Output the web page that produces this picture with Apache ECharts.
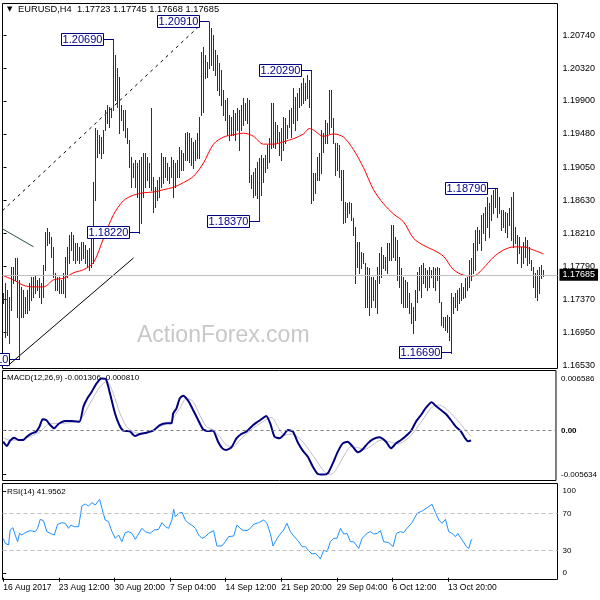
<!DOCTYPE html>
<html><head><meta charset="utf-8">
<script src="https://cdn.jsdelivr.net/npm/echarts@6/dist/echarts.min.js"></script>
<style>html,body{margin:0;padding:0;background:#fff}#c{width:600px;height:600px}</style>
</head><body><div id="c"></div>
<script>
const titleText = 'EURUSD,H4  1.17723 1.17745 1.17668 1.17685';
const lastClose = 1.17685;
const barHigh = [1.1745,1.1758,1.1749,1.1740,1.1778,1.1778,1.1790,1.1790,1.1762,1.1753,
1.1749,1.1740,1.1749,1.1758,1.1766,1.1766,1.1768,1.1762,1.1764,1.1758,
1.1781,1.1823,1.1828,1.1823,1.1817,1.1804,1.1771,1.1766,1.1766,1.1762,
1.1771,1.1791,1.1804,1.1819,1.1823,1.1819,1.1809,1.1809,1.1804,1.1810,
1.1810,1.1806,1.1800,1.1803,1.1826,1.1887,1.1956,1.1953,1.1947,1.1944,
1.1953,1.1979,1.1985,1.1982,1.1981,1.2069,1.2049,1.2032,1.2021,1.1985,
1.1979,1.1979,1.1956,1.1940,1.1919,1.1911,1.1915,1.1911,1.1915,1.1919,
1.1924,1.1924,1.1919,1.1911,1.1981,1.1893,1.1880,1.1889,1.1893,1.1924,
1.1919,1.1919,1.1911,1.1906,1.1919,1.1915,1.1911,1.1915,1.1931,1.1928,
1.1924,1.1949,1.1951,1.1949,1.1943,1.1938,1.1940,1.1949,1.1970,1.2053,
1.2059,1.2049,1.2040,1.2091,1.2083,1.2074,1.2055,1.2049,1.2039,1.2030,
1.2004,1.1991,1.1994,1.1972,1.1970,1.1979,1.1975,1.1981,1.1979,1.1985,
1.1994,1.1988,1.1994,1.1991,1.1896,1.1900,1.1905,1.1912,1.1917,1.1921,
1.1917,1.1921,1.1934,1.1943,1.1988,1.1988,1.1963,1.1959,1.1951,1.1956,
1.1970,1.1968,1.1959,1.1979,1.1981,1.2007,1.1995,1.2000,1.2007,1.2013,
1.2019,1.2013,1.2023,1.2017,1.2029,1.1898,1.1898,1.1919,1.1924,1.1953,
1.1949,1.1966,1.1962,1.2004,1.2004,1.1968,1.1937,1.1937,1.1934,1.1902,
1.1902,1.1861,1.1860,1.1861,1.1860,1.1841,1.1829,1.1810,1.1810,1.1798,
1.1796,1.1784,1.1778,1.1777,1.1766,1.1766,1.1762,1.1778,1.1796,1.1804,
1.1794,1.1791,1.1809,1.1809,1.1832,1.1832,1.1817,1.1813,1.1791,1.1777,
1.1766,1.1762,1.1759,1.1745,1.1733,1.1727,1.1749,1.1772,1.1778,1.1781,
1.1784,1.1777,1.1775,1.1778,1.1775,1.1778,1.1777,1.1778,1.1777,1.1734,
1.1715,1.1715,1.1717,1.1715,1.1745,1.1740,1.1745,1.1749,1.1752,1.1758,
1.1753,1.1764,1.1766,1.1787,1.1790,1.1809,1.1826,1.1829,1.1826,1.1845,
1.1847,1.1855,1.1868,1.1860,1.1870,1.1877,1.1878,1.1879,1.1868,1.1851,
1.1851,1.1849,1.1847,1.1854,1.1868,1.1874,1.1829,1.1819,1.1817,1.1804,
1.1810,1.1817,1.1813,1.1804,1.1787,1.1778,1.1771,1.1775,1.1778,1.1781,
1.17745];
const barLow = [1.1733,1.1689,1.1692,1.1682,1.1724,1.1758,1.1762,1.1715,1.1661,1.1715,
1.1715,1.1720,1.1720,1.1724,1.1736,1.1740,1.1745,1.1749,1.1740,1.1733,
1.1740,1.1775,1.1806,1.1809,1.1791,1.1766,1.1749,1.1749,1.1745,1.1745,
1.1745,1.1740,1.1766,1.1784,1.1800,1.1787,1.1784,1.1787,1.1784,1.1787,
1.1790,1.1784,1.1778,1.1775,1.1778,1.1784,1.1864,1.1919,1.1924,1.1917,
1.1924,1.1953,1.1962,1.1957,1.1970,1.1979,1.1991,1.1982,1.1949,1.1966,
1.1953,1.1944,1.1937,1.1906,1.1880,1.1893,1.1880,1.1868,1.1822,1.1835,
1.1868,1.1880,1.1889,1.1880,1.1877,1.1849,1.1855,1.1864,1.1868,1.1880,
1.1886,1.1893,1.1889,1.1886,1.1893,1.1868,1.1880,1.1893,1.1893,1.1902,
1.1902,1.1915,1.1915,1.1912,1.1908,1.1905,1.1915,1.1917,1.1917,1.1972,
1.1976,1.2019,1.2021,1.2032,1.2036,1.2030,1.2023,1.2004,1.1998,1.1985,
1.1972,1.1966,1.1947,1.1940,1.1947,1.1947,1.1940,1.1953,1.1928,1.1953,
1.1959,1.1966,1.1962,1.1887,1.1879,1.1868,1.1870,1.1866,1.1837,1.1870,
1.1887,1.1900,1.1905,1.1912,1.1930,1.1931,1.1930,1.1938,1.1921,1.1915,
1.1928,1.1937,1.1943,1.1957,1.1944,1.1962,1.1953,1.1966,1.1982,1.1985,
1.1988,1.1991,1.1994,1.1982,1.1860,1.1864,1.1873,1.1889,1.1889,1.1898,
1.1925,1.1937,1.1937,1.1949,1.1957,1.1937,1.1896,1.1902,1.1893,1.1864,
1.1835,1.1836,1.1842,1.1847,1.1838,1.1819,1.1758,1.1778,1.1771,1.1777,
1.1784,1.1727,1.1727,1.1717,1.1727,1.1736,1.1727,1.1720,1.1758,1.1766,
1.1777,1.1775,1.1771,1.1787,1.1787,1.1791,1.1787,1.1762,1.1753,1.1733,
1.1727,1.1727,1.1727,1.1720,1.1707,1.1694,1.1711,1.1734,1.1749,1.1740,
1.1758,1.1753,1.1749,1.1753,1.1766,1.1753,1.1749,1.1762,1.1734,1.1704,
1.1702,1.1698,1.1696,1.1685,1.1669,1.1720,1.1727,1.1724,1.1733,1.1736,
1.1739,1.1740,1.1749,1.1753,1.1762,1.1771,1.1775,1.1800,1.1809,1.1800,
1.1822,1.1813,1.1829,1.1817,1.1838,1.1847,1.1855,1.1842,1.1847,1.1826,
1.1829,1.1823,1.1817,1.1832,1.1813,1.1804,1.1809,1.1784,1.1796,1.1778,
1.1784,1.1791,1.1781,1.1784,1.1775,1.1753,1.1740,1.1736,1.1745,1.1764,
1.17668];
const maPts = [[0,1.1767],[5,1.1762],[10,1.1755],[15,1.1753],[20,1.1753],[25,1.1762],[30,1.1764],[35,1.1771],[40,1.1775],[45,1.1784],
[50,1.1815],[55,1.1845],[60,1.1863],[65,1.1870],[70,1.1873],[75,1.1874],[80,1.1877],[85,1.1880],[90,1.1886],[95,1.1894],
[100,1.1911],[105,1.1935],[110,1.1944],[115,1.1947],[120,1.1949],[125,1.1945],[130,1.1935],[135,1.1935],[140,1.1938],[145,1.1942],
[150,1.1948],[153,1.1955],[155,1.1953],[160,1.1945],[165,1.1948],[170,1.1944],[175,1.1928],[180,1.1905],[185,1.1877],[190,1.1859],
[195,1.1846],[200,1.1836],[205,1.1815],[210,1.1806],[215,1.1800],[220,1.1792],[225,1.1775],[230,1.1768],[235,1.1767],[240,1.1777],
[245,1.1791],[250,1.1800],[255,1.1804],[260,1.1804],[265,1.1800],[270,1.1795]];
const levelLabels = [[8,1.1661,'1.16610'],[55,1.2069,'1.20690'],[68,1.1822,'1.18220'],[103,1.2091,'1.20910'],
[128,1.1837,'1.18370'],[154,1.2029,'1.20290'],[224,1.1669,'1.16690'],[247,1.1879,'1.18790']];
const dashedTrend = [[-0.5,1.18502],[98.5,1.20871]];
const solidTrend = [[2,1.16522],[65,1.17899]];
const grayTrend = [[-0.5,1.18270],[15,1.18042]];
const priceTicks = [1.16530,1.16950,1.17370,1.17790,1.18210,1.18630,1.19050,1.19480,1.19900,1.20320,1.20740];

const macdPts = [[0,-0.001446],[2.1,-0.001997],[4,-0.001319],[6.3,-0.000937],[8.8,-0.001234],[11.7,-0.001234],[13.6,-0.000810],[16.5,-0.000386],[19,-0.000174],[20.9,0.000462],
[22.8,0.001395],[24.8,0.001310],[27.1,0.000674],[29.4,0.000250],[31.9,0.000801],[35.7,0.001183],[39.5,0.001183],[44,0.001098],[46.3,0.003006],[48.6,0.004066],
[51.1,0.004914],[53.9,0.005974],[56.8,0.006586],[59.3,0.006483],[61.6,0.004702],[64.5,0.002158],[67,0.000674],[69.3,-0.000047],[73.1,-0.000131],[76,-0.000725],
[78.9,-0.000471],[82.7,-0.000301],[86.6,-0.000047],[90.4,0.000674],[94.2,0.000886],[97.1,0.000886],[98.1,0.002158],[100,0.002794],[101.9,0.004066],[103.8,0.004405],
[106.7,0.003769],[109.6,0.002582],[112.5,0.001310],[115.4,0.000123],[118.2,-0.000089],[121.1,-0.000047],[124,-0.001446],[126.5,-0.002294],[128.8,-0.002506],[131.7,-0.002167],
[134.5,-0.001064],[137.4,-0.000471],[140.3,-0.000174],[143.2,0.000462],[146.1,0.000971],[148.9,0.001395],[151.8,0.001819],[154.1,0.000886],[156.6,-0.000810],[159.5,-0.001022],
[161.8,-0.000598],[164.3,0.000038],[167.2,-0.000174],[170.1,-0.001573],[172.9,-0.002591],[175.8,-0.003354],[178.7,-0.004626],[181.6,-0.005559],[184.5,-0.005634],[187.3,-0.005474],
[190.2,-0.004202],[193.1,-0.002718],[196,-0.001658],[198.8,-0.001446],[201.7,-0.002082],[204.6,-0.002803],[207.5,-0.002421],[210.4,-0.001658],[213.2,-0.001149],[217.1,-0.000895],
[220.9,-0.001446],[223.8,-0.002294],[226.7,-0.001658],[229.6,-0.001234],[232.4,-0.000725],[235.3,-0.000089],[238.2,0.001098],[241.1,0.001946],[244,0.002879],[247.2,0.003557],
[249.7,0.003091],[252.6,0.002582],[255.5,0.002073],[258.3,0.001310],[261.2,0.000462],[264.1,-0.000131],[266.5,-0.001000],[268.3,-0.001400],[270,-0.001306]];
const signalPts = [[0,-0.00095],[4,-0.00125],[9.8,-0.00118],[15.5,-0.000810],[21.3,-0.000174],[27.1,0.000886],[32.8,0.000886],[38.6,0.000971],[44.3,0.001310],[50.1,0.003430],
[55.9,0.005550],[59.7,0.006186],[63.5,0.004702],[67.4,0.002158],[71.2,0.000462],[75,-0.000174],[78.9,-0.000386],[84.6,-0.000174],[90.4,0.000462],[96.2,0.001098],
[101.9,0.002794],[105.8,0.004066],[109.6,0.003642],[113.4,0.001946],[117.3,0.000462],[121.1,0.000038],[125,-0.000810],[128.8,-0.001870],[132.6,-0.002082],[136.5,-0.001234],
[140.3,-0.000471],[144.1,0.000250],[149.9,0.001098],[154.7,0.001649],[158.5,0.000462],[162.4,-0.000598],[166.2,-0.000471],[171,-0.001022],[175.8,-0.002294],[180.6,-0.003778],
[185.4,-0.005262],[189.3,-0.005600],[193.1,-0.004626],[196.9,-0.003142],[200.8,-0.002082],[204.6,-0.002209],[208.4,-0.002421],[213.2,-0.001870],[218,-0.001234],[222.8,-0.001446],
[227.6,-0.001743],[232.4,-0.001234],[237.2,-0.000174],[242,0.001310],[247.8,0.003006],[251.6,0.003218],[256.4,0.002582],[261.2,0.001522],[266,0.000250],[270,-0.000810]];
const macdTicks = [-0.005634, 0, 0.006586];

const rsiPts = [[0,43.1],[1.2,37.6],[2.1,35.8],[3.1,35.8],[4,52.2],[5.6,54.7],[6.9,46.7],[8.3,39.4],[9.4,48.5],[10.7,46.7],
[12.7,49.3],[15.5,51.5],[18.4,50.4],[19.8,54.0],[21.3,63.8],[23.2,62.4],[25.1,50.4],[27.1,48.5],[29.4,46.7],[31.3,58.4],
[33.8,60.2],[35.7,59.5],[37.6,54.0],[39,57.6],[40.9,55.8],[43.4,55.8],[45.3,78.4],[47.2,80.6],[49.1,78.4],[51.1,82.1],
[53,79.5],[55.5,85.7],[56.8,75.9],[58.7,63.1],[60.6,61.3],[62.6,50.4],[64.5,43.1],[66.4,46.7],[68.3,39.4],[70.2,49.3],
[72.2,50.4],[74.1,48.5],[76,42.0],[77.9,47.8],[79.8,54.0],[81.8,50.4],[84.6,48.5],[86.9,52.2],[89.4,52.9],[91.4,60.2],
[93.3,55.8],[95.2,54.0],[97.1,63.1],[98.1,74.8],[99,66.8],[101,70.4],[102.9,71.5],[104.8,63.1],[106.7,59.5],[108.6,57.6],
[110.6,54.0],[112.5,46.7],[114.4,43.1],[116.3,44.9],[118.2,48.5],[121.1,51.5],[123,34.7],[125.9,34.7],[127.8,39.4],[129.7,44.9],
[132.6,45.6],[134.5,57.6],[137.4,52.2],[140.3,51.5],[142.2,54.0],[144.1,58.4],[147,60.2],[149.9,63.1],[151.8,59.5],[153.7,48.5],
[155.3,34.7],[156.6,39.4],[158.5,45.6],[161.4,52.2],[163.3,59.5],[165.3,50.4],[167.2,45.6],[170.1,39.4],[172,34.0],[173.9,34.0],
[175.8,29.6],[177.7,26.0],[179.7,26.7],[181.6,23.0],[182.5,20.5],[184.5,30.3],[186.4,28.5],[188.3,39.4],[190.2,43.1],[192.1,43.1],
[194.1,54.0],[196,47.8],[197.9,48.5],[199.8,39.4],[201.7,39.4],[204.6,32.1],[206.5,43.1],[209.4,48.5],[211.3,50.4],[213.2,47.8],
[215.2,48.5],[217.1,51.5],[219,39.4],[221.9,38.3],[224.4,34.0],[226.3,48.5],[228.6,50.4],[230.5,49.3],[232.4,54.0],[235.3,60.2],
[238.2,70.4],[241.1,73.0],[244,76.6],[246.8,80.2],[248.8,71.1],[250.7,63.1],[252.6,59.5],[254.5,63.8],[256.4,50.4],[258.3,48.5],
[260.3,44.9],[261.6,48.5],[264.1,41.3],[266.6,34.0],[268,32.1],[269.3,41.3],[270,41.96]];
const rsiLevels = [30, 70];
const rsiTickLabels = [['0',5.2],['30',30],['70',70],['100',94.8]];
const timeLabelBars = [0,32,64,96,128,160,192,224,256];
const timeLabels = ['16 Aug 2017','23 Aug 12:00','30 Aug 20:00','7 Sep 04:00','14 Sep 12:00','21 Sep 20:00','29 Sep 04:00','6 Oct 12:00','13 Oct 20:00'];

const FONT = "'Liberation Sans', Arial, sans-serif";
const barColor = '#163754';
const chart = echarts.init(document.getElementById('c'), null, {renderer:'canvas'});

const option = {
  animation: false,
  backgroundColor: '#fff',
  textStyle: {fontFamily: FONT},
  grid: [
    {left:2.5, top:3.5, width:555, height:365, show:true, borderColor:'#000', borderWidth:1, backgroundColor:'transparent'},
    {left:2.5, top:370.5, width:555, height:110, show:true, borderColor:'#000', borderWidth:1, backgroundColor:'transparent'},
    {left:2.5, top:483.5, width:555, height:96, show:true, borderColor:'#000', borderWidth:1, backgroundColor:'transparent'}
  ],
  xAxis: [
    {gridIndex:0, type:'value', min:-0.5, max:277, show:false},
    {gridIndex:1, type:'value', min:-0.403, max:319, show:false},
    {gridIndex:2, type:'value', min:-0.403, max:319,
      axisLine:{show:false}, splitLine:{show:false},
      axisTick:{show:true, customValues: timeLabelBars, length:4, lineStyle:{color:'#000'}},
      axisLabel:{show:true, customValues: timeLabelBars, formatter: v => timeLabels[timeLabelBars.indexOf(v)] || '',
        align:'left', fontSize:8.5, color:'#000', margin:4, fontFamily:FONT}}
  ],
  yAxis: [
    {gridIndex:0, type:'value', position:'right', min:1.16490, max:1.21143, splitLine:{show:false}, axisLine:{show:false},
      axisTick:{show:true, customValues: priceTicks, length:3, lineStyle:{color:'#000'}},
      axisLabel:{customValues: priceTicks, formatter: v => v.toFixed(5), fontSize:9, color:'#000', margin:5, fontFamily:FONT}},
    {gridIndex:1, type:'value', position:'right', min:-0.006385, max:0.007607, splitLine:{show:false}, axisLine:{show:false},
      axisTick:{show:true, customValues: macdTicks, length:3, lineStyle:{color:'#000'}},
      axisLabel:{customValues: macdTicks, formatter: v => (Math.abs(v) < 1e-9 ? '{b|0.00}' : v.toFixed(6)), fontSize:8, color:'#000', margin:5, fontFamily:FONT,
        rich:{b:{fontWeight:'bold', fontSize:8, fontFamily:FONT, color:'#000'}}}},
    {gridIndex:2, type:'value', position:'right', min:-1.9, max:103.0, splitLine:{show:false}, axisLine:{show:false},
      axisTick:{show:true, customValues: rsiTickLabels.map(d=>d[1]), length:3, lineStyle:{color:'#000'}},
      axisLabel:{customValues: rsiTickLabels.map(d=>d[1]), formatter: v => { const f = rsiTickLabels.find(d => Math.abs(d[1]-v) < 1e-6); return f ? f[0] : ''; },
        fontSize:8, color:'#000', margin:5, fontFamily:FONT}}
  ],
  series: [
    {type:'line', xAxisIndex:0, yAxisIndex:0, data:[[0,lastClose]], showSymbol:false, symbol:'none', lineStyle:{width:0}, z:1, silent:true,
      markLine:{silent:true, symbol:'none', animation:false, precision:5,
        lineStyle:{color:'#c0c0c0', type:'solid', width:1},
        label:{show:true, position:'end', formatter: () => lastClose.toFixed(5), backgroundColor:'#000', color:'#fff',
          padding:[2,3,1,3], fontSize:9, distance:2, fontFamily:FONT},
        data:[{yAxis:lastClose}]}},
    {type:'line', xAxisIndex:0, yAxisIndex:0, data:dashedTrend, showSymbol:false, symbol:'none', clip:true, z:2, silent:true,
      lineStyle:{color:'#000', width:1, type:[3,4]}},
    {type:'line', xAxisIndex:0, yAxisIndex:0, data:solidTrend, showSymbol:false, symbol:'none', clip:true, z:2, silent:true,
      lineStyle:{color:'#000', width:1}},
    {type:'line', xAxisIndex:0, yAxisIndex:0, data:grayTrend, showSymbol:false, symbol:'none', clip:true, z:2, silent:true,
      lineStyle:{color:'#2f4f4f', width:1}},
    {type:'custom', xAxisIndex:0, yAxisIndex:0, clip:true, z:3, silent:true,
      data: barHigh.map((h,i) => [i, h, barLow[i]]),
      encode:{x:0, y:[1,2]},
      renderItem: (params, api) => {
        const i = api.value(0);
        const hi = api.coord([i, api.value(1)]);
        const lo = api.coord([i, api.value(2)]);
        const x = Math.floor(hi[0]) + 0.5;
        return {type:'line', shape:{x1:x, y1:Math.round(hi[1]), x2:x, y2:Math.round(lo[1])+1},
          style:{stroke:barColor, lineWidth:1}};
      }},
    {type:'line', xAxisIndex:0, yAxisIndex:0, data:maPts, showSymbol:false, symbol:'none', smooth:0.3, z:4, silent:true,
      lineStyle:{color:'#ff0000', width:1}},
    {type:'custom', xAxisIndex:0, yAxisIndex:0, clip:false, z:5, silent:true,
      data: levelLabels.map(d => [d[0], d[1]]),
      encode:{x:0, y:1},
      renderItem: (params, api) => {
        const p = api.coord([api.value(0), api.value(1)]);
        const x = Math.floor(p[0]) + 0.5, y = Math.floor(p[1]) + 0.5;
        const txt = levelLabels[params.dataIndex][2];
        return {type:'group', children:[
          {type:'line', shape:{x1:x-10, y1:y, x2:x, y2:y}, style:{stroke:'#000080', lineWidth:1}},
          {type:'rect', shape:{x:x-52, y:y-6, width:42, height:12}, style:{fill:'#fff', stroke:'#000080', lineWidth:1}},
          {type:'text', x:x-31, y:y+0.5, style:{text:txt, align:'center', verticalAlign:'middle', fill:'#00008b', font:'11px ' + FONT}}
        ]};
      }},
    {type:'line', xAxisIndex:1, yAxisIndex:1, data:signalPts, showSymbol:false, symbol:'none', smooth:0.3, z:2, silent:true,
      lineStyle:{color:'#c0c0c0', width:1},
      markLine:{silent:true, symbol:'none', animation:false, precision:6, label:{show:false},
        lineStyle:{color:'#808080', type:[3,3], width:1}, data:[{yAxis:0}]}},
    {type:'line', xAxisIndex:1, yAxisIndex:1, data:macdPts, showSymbol:false, symbol:'none', smooth:0.2, z:3, silent:true,
      lineStyle:{color:'#000080', width:2}},
    {type:'line', xAxisIndex:2, yAxisIndex:2, data:rsiPts, showSymbol:false, symbol:'none', z:3, silent:true,
      lineStyle:{color:'#1e90ff', width:1},
      markLine:{silent:true, symbol:'none', animation:false, precision:2, label:{show:false},
        lineStyle:{color:'#c0c0c0', type:[4,3], width:1}, data: rsiLevels.map(v => ({yAxis:v}))}}
  ],
  graphic: [
    {type:'text', left:137, top:324, z:-1, silent:true, style:{text:'ActionForex.com', fill:'#c8c8c8', font:'23px ' + FONT}},
    {type:'text', left:7, top:6, silent:true, style:{text:'\u25BC', fill:'#000', font:'7px DejaVu Sans'}},
    {type:'text', left:18, top:5, silent:true, style:{text:titleText, fill:'#000', font:'9.3px ' + FONT}},
    {type:'text', left:7, top:374, silent:true, style:{text:'MACD(12,26,9) -0.001306 -0.000810', fill:'#000', font:'8px ' + FONT}},
    {type:'text', left:7, top:488, silent:true, style:{text:'RSI(14) 41.9562', fill:'#000', font:'8px ' + FONT}}
  ]
};
chart.setOption(option);
</script>
</body></html>
